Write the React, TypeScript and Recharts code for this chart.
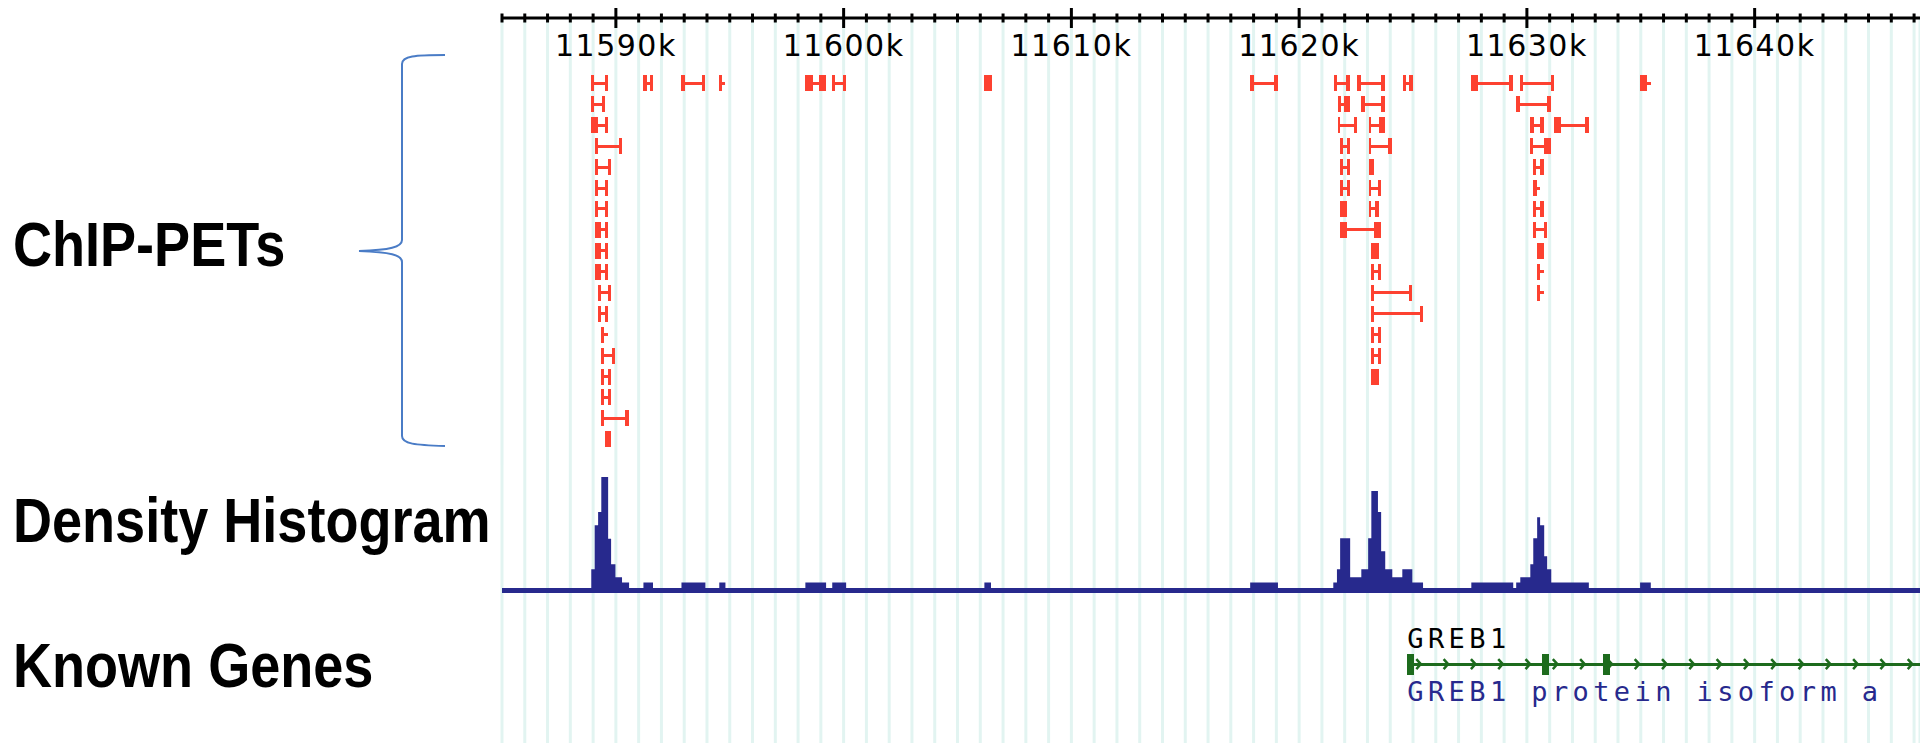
import React from 'react';
import {
  ComposedChart,
  Bar,
  Area,
  XAxis,
  YAxis,
  CartesianGrid,
  ReferenceArea
} from 'recharts';

// genome window, in kb
const X_DOMAIN: [number, number] = [11585, 11647.26];
const majorTicks = [11590, 11600, 11610, 11620, 11630, 11640];
const majorLabels = ['11590k', '11600k', '11610k', '11620k', '11630k', '11640k'];
const minorTicks = Array.from({ length: 63 }, (_, i) => 11585 + i);

// ChIP-PETs: [row, start kb, end kb, left tag kb, right tag kb]
const leftPeakPets = [
  [1, 11588.92, 11589.66, 0.14, 0.14],
  [2, 11588.92, 11589.54, 0.14, 0.14],
  [3, 11588.92, 11589.66, 0.29, 0.14],
  [4, 11589.07, 11590.27, 0.14, 0.14],
  [5, 11589.07, 11589.8, 0.14, 0.14],
  [6, 11589.07, 11589.66, 0.14, 0.14],
  [7, 11589.07, 11589.66, 0.14, 0.14],
  [8, 11589.07, 11589.66, 0.29, 0.14],
  [9, 11589.07, 11589.66, 0.29, 0.14],
  [10, 11589.07, 11589.66, 0.29, 0.14],
  [11, 11589.22, 11589.8, 0.14, 0.14],
  [12, 11589.22, 11589.66, 0.14, 0.14],
  [13, 11589.36, 11589.66, 0.14, 0],
  [14, 11589.36, 11589.95, 0.14, 0.14],
  [15, 11589.36, 11589.8, 0.14, 0.14],
  [16, 11589.36, 11589.8, 0.14, 0.14],
  [17, 11589.36, 11590.56, 0.14, 0.14],
  [18, 11589.54, 11589.8, 0.26, 0]
];

const midPeakPets = [
  [1, 11621.51, 11622.24, 0.17, 0.17],
  [1, 11622.56, 11623.78, 0.17, 0.17],
  [2, 11621.69, 11622.24, 0.13, 0.29],
  [2, 11622.73, 11623.75, 0.14, 0.14],
  [3, 11621.69, 11622.54, 0.12, 0.12],
  [3, 11623.05, 11623.75, 0.12, 0.26],
  [4, 11621.8, 11622.24, 0.12, 0.12],
  [4, 11623.05, 11624.07, 0.12, 0.15],
  [5, 11621.8, 11622.24, 0.12, 0.12],
  [5, 11623.05, 11623.3, 0.25, 0],
  [6, 11621.8, 11622.24, 0.12, 0.12],
  [6, 11623.05, 11623.6, 0.12, 0.15],
  [7, 11621.8, 11622.1, 0.3, 0],
  [7, 11623.05, 11623.49, 0.12, 0.15],
  [8, 11621.8, 11623.6, 0.29, 0.31],
  [9, 11623.17, 11623.49, 0.32, 0],
  [10, 11623.17, 11623.6, 0.13, 0.15],
  [11, 11623.17, 11624.95, 0.13, 0.12],
  [12, 11623.17, 11625.44, 0.13, 0.15],
  [13, 11623.17, 11623.6, 0.13, 0.15],
  [14, 11623.17, 11623.6, 0.13, 0.15],
  [15, 11623.17, 11623.49, 0.32, 0]
];

const rightPeakPets = [
  [1, 11627.56, 11629.4, 0.31, 0.18],
  [1, 11629.71, 11631.2, 0.14, 0.14],
  [2, 11629.53, 11631.05, 0.18, 0.15],
  [3, 11630.15, 11630.76, 0.15, 0.18],
  [3, 11631.2, 11632.74, 0.31, 0.18],
  [4, 11630.15, 11631.07, 0.12, 0.31],
  [5, 11630.26, 11630.76, 0.15, 0.18],
  [6, 11630.26, 11630.58, 0.18, 0],
  [7, 11630.26, 11630.76, 0.15, 0.18],
  [8, 11630.26, 11630.89, 0.15, 0.16],
  [9, 11630.44, 11630.76, 0.32, 0],
  [10, 11630.44, 11630.76, 0.15, 0],
  [11, 11630.44, 11630.76, 0.15, 0]
];

const scatteredPets = [
  [1, 11591.21, 11591.63, 0.14, 0.14],
  [1, 11592.88, 11593.9, 0.14, 0.14],
  [1, 11594.54, 11594.81, 0.12, 0],
  [1, 11598.32, 11599.23, 0.32, 0.29],
  [1, 11599.49, 11600.12, 0.14, 0.16],
  [1, 11606.18, 11606.53, 0.35, 0],
  [1, 11617.85, 11619.07, 0.17, 0.17],
  [1, 11624.54, 11624.98, 0.14, 0.14],
  [1, 11634.97, 11635.46, 0.29, 0]
];

// density histogram steps: [kb, value] (value holds until next step)
const densitySteps = [
  [11585, 0],
  [11588.92, 3.3], [11589.07, 11.1], [11589.22, 13.4], [11589.36, 19.6],
  [11589.66, 8.7], [11589.79, 4.2], [11589.98, 1.9], [11590.27, 1], [11590.58, 0],
  [11591.21, 1], [11591.63, 0],
  [11592.88, 1], [11593.93, 0],
  [11594.54, 1], [11594.81, 0],
  [11598.32, 1], [11599.23, 0],
  [11599.5, 1], [11600.11, 0],
  [11606.18, 1], [11606.47, 0],
  [11617.85, 1], [11619.07, 0],
  [11621.5, 1], [11621.66, 3.3], [11621.8, 8.8], [11622.24, 1.9], [11622.73, 3.3],
  [11623.03, 8.8], [11623.17, 17.1], [11623.46, 13.4], [11623.6, 6.5], [11623.78, 3.3],
  [11624.09, 1.9], [11624.53, 3.3], [11624.97, 1], [11625.44, 0],
  [11627.56, 1], [11629.4, 0], [11629.53, 1], [11629.71, 1.9], [11630.15, 4.2],
  [11630.28, 8.8], [11630.45, 12.5], [11630.58, 11.1], [11630.76, 5.6], [11630.89, 3.3],
  [11631.07, 1], [11632.72, 0],
  [11634.97, 1], [11635.44, 0],
  [11647.26, 0]
];

// known genes
const geneNames = ['GREB1'];
const geneDescriptions = ['GREB1 protein isoform a'];
const geneSpans = [[11624.75, 11660]];
const geneExons = [[[11624.75, 11625.05], [11630.67, 11630.98], [11633.35, 11633.66]]];

const trackLabels = ['ChIP-PETs', 'Density Histogram', 'Known Genes'];

const PET_RED = '#fd4130';
const NAVY = '#27298d';
const GENE_GREEN = '#1d6b1d';
const GRID = '#e2f4f1';

const pets = [...leftPeakPets, ...midPeakPets, ...rightPeakPets, ...scatteredPets].map(
  ([row, start, end, lt, rt]) => ({ row, start, end, lt, rt })
);
const density = densitySteps.map(([kb, value]) => ({ kb, value }));
const genes = geneNames.map((name, i) => ({
  row: 0,
  name,
  desc: geneDescriptions[i],
  start: geneSpans[i][0],
  end: geneSpans[i][1],
  exons: geneExons[i]
}));

const RulerTick = (props: any) => {
  const { x, payload } = props;
  const idx = majorTicks.indexOf(payload.value);
  const major = idx >= 0;
  return (
    <g>
      <line
        x1={x}
        x2={x}
        y1={major ? 8 : 13.5}
        y2={major ? 28 : 22.5}
        stroke="#000"
        strokeWidth={3}
      />
      {major && (
        <text
          x={x}
          y={56}
          textAnchor="middle"
          fontFamily="DejaVu Sans"
          fontSize={30}
          letterSpacing={1.5}
          fill="#000"
        >
          {majorLabels[idx]}
        </text>
      )}
    </g>
  );
};

const PetGlyph = (props: any) => {
  const { x, y, width, height, payload } = props;
  if (x == null || width == null) return null;
  const k = width / (payload.end - payload.start);
  const cy = y + height / 2;
  const lw = Math.min(width, payload.lt * k);
  const rw = Math.min(width, payload.rt * k);
  return (
    <g shapeRendering="crispEdges">
      <rect x={x} y={cy - 1.5} width={width} height={3} fill={PET_RED} />
      <rect x={x} y={cy - 8} width={lw} height={16} fill={PET_RED} />
      {rw > 0 && <rect x={x + width - rw} y={cy - 8} width={rw} height={16} fill={PET_RED} />}
    </g>
  );
};

const GeneGlyph = (props: any) => {
  const { x, y, width, height, payload } = props;
  if (x == null || width == null) return null;
  const k = width / (payload.end - payload.start);
  const cy = y + height / 2;
  const chevrons = [];
  for (let cx = x + 12; cx < x + width; cx += 27.3) {
    chevrons.push(
      <polyline
        key={cx}
        points={`${cx - 3},${cy - 5} ${cx + 1.5},${cy} ${cx - 3},${cy + 5}`}
        fill="none"
        stroke={GENE_GREEN}
        strokeWidth={2.5}
      />
    );
  }
  const textStyle = { fontFamily: 'DejaVu Sans Mono', fontSize: 27, letterSpacing: 4.4 };
  return (
    <g>
      <text x={x} y={cy - 16.5} fill="#000" style={textStyle}>{payload.name}</text>
      <rect x={x} y={cy - 1.5} width={width} height={3} fill={GENE_GREEN} shapeRendering="crispEdges" />
      {payload.exons.map(([s, e]: number[]) => (
        <rect
          key={s}
          x={x + (s - payload.start) * k}
          y={cy - 10.5}
          width={(e - s) * k}
          height={21}
          fill={GENE_GREEN}
          shapeRendering="crispEdges"
        />
      ))}
      {chevrons}
      <text x={x} y={cy + 36.5} fill={NAVY} style={textStyle}>{payload.desc}</text>
    </g>
  );
};

const MARGIN = { top: 0, right: 0, bottom: 0, left: 502 };

export default function App() {
  return (
    <div
      style={{
        position: 'absolute',
        left: 0,
        top: 0,
        width: 1920,
        height: 743,
        overflow: 'hidden',
        background: '#fff'
      }}
    >
      {/* ChIP-PET track with the ruler */}
      <div style={{ position: 'absolute', left: 0, top: 0 }}>
        <ComposedChart layout="vertical" width={1920} height={465} data={pets} margin={MARGIN}>
          <CartesianGrid horizontal={false} stroke={GRID} strokeWidth={3} />
          <XAxis
            type="number"
            orientation="top"
            domain={X_DOMAIN}
            allowDataOverflow
            ticks={minorTicks}
            interval={0}
            height={18}
            axisLine={{ stroke: '#000', strokeWidth: 3 }}
            tickLine={false}
            tick={<RulerTick />}
          />
          <YAxis type="number" dataKey="row" domain={[-2.14, 19.2]} allowDataOverflow hide />
          <Bar
            dataKey={(d: any) => [d.start, d.end]}
            barSize={16}
            shape={<PetGlyph />}
            isAnimationActive={false}
          />
        </ComposedChart>
      </div>

      {/* density histogram */}
      <div style={{ position: 'absolute', left: 0, top: 465 }}>
        <ComposedChart width={1920} height={135} data={density} margin={MARGIN}>
          <CartesianGrid horizontal={false} stroke={GRID} strokeWidth={3} />
          <XAxis
            type="number"
            dataKey="kb"
            domain={X_DOMAIN}
            allowDataOverflow
            ticks={minorTicks}
            interval={0}
            hide
          />
          <YAxis type="number" domain={[-2.1, 21.7]} allowDataOverflow hide />
          <ReferenceArea y1={-0.88} y2={0} fill={NAVY} fillOpacity={1} stroke="none" />
          <Area
            type="stepAfter"
            dataKey="value"
            baseValue={0}
            stroke="none"
            fill={NAVY}
            fillOpacity={1}
            dot={false}
            activeDot={false}
            isAnimationActive={false}
          />
        </ComposedChart>
      </div>

      {/* known genes */}
      <div style={{ position: 'absolute', left: 0, top: 600 }}>
        <ComposedChart layout="vertical" width={1920} height={143} data={genes} margin={MARGIN}>
          <CartesianGrid horizontal={false} stroke={GRID} strokeWidth={3} />
          <XAxis
            type="number"
            domain={X_DOMAIN}
            allowDataOverflow
            ticks={minorTicks}
            interval={0}
            hide
          />
          <YAxis type="number" dataKey="row" domain={[-1, 1.25]} allowDataOverflow hide />
          <Bar
            dataKey={(d: any) => [d.start, d.end]}
            barSize={21}
            shape={<GeneGlyph />}
            isAnimationActive={false}
          />
        </ComposedChart>
      </div>

      {/* track labels and bracket */}
      <svg
        width={500}
        height={743}
        style={{ position: 'absolute', left: 0, top: 0 }}
      >
        {trackLabels.map((t, i) => (
          <text
            key={t}
            transform={`translate(13, ${[266, 541.5, 686.5][i]}) scale(1.02, 1.2)`}
            fontFamily="Liberation Sans, Arial, sans-serif"
            fontWeight="bold"
            fontSize={53}
            fill="#000"
          >
            {t}
          </text>
        ))}
        <path
          d="M 445 55 C 415 55 402 56 402 64 L 402 240 C 402 247 390 250 359 251 C 390 252 402 255 402 262 L 402 436 C 402 444 415 445 445 446"
          fill="none"
          stroke="#4a7cc6"
          strokeWidth={2}
        />
      </svg>
    </div>
  );
}
